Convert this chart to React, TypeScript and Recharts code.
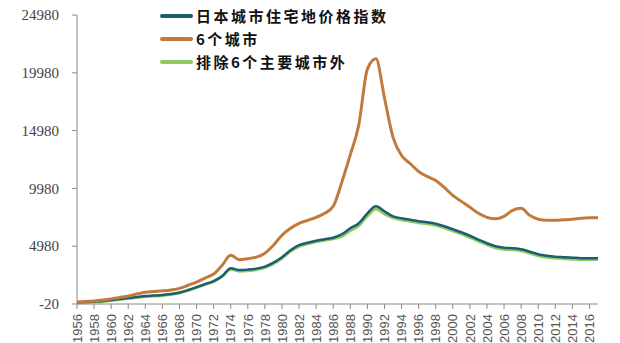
import { LineChart, Line, XAxis, YAxis } from 'recharts';

const years = [
  1956, 1957, 1958, 1959, 1960, 1961, 1962, 1963, 1964, 1965, 1966, 1967, 1968, 1969, 1970, 1971,
  1972, 1973, 1974, 1975, 1976, 1977, 1978, 1979, 1980, 1981, 1982, 1983, 1984, 1985, 1986, 1987,
  1988, 1989, 1990, 1991, 1992, 1993, 1994, 1995, 1996, 1997, 1998, 1999, 2000, 2001, 2002, 2003,
  2004, 2005, 2006, 2007, 2008, 2009, 2010, 2011, 2012, 2013, 2014, 2015, 2016, 2017,
];

// 日本城市住宅地价格指数
const allCities = [
  109, 152, 196, 239, 325, 411, 497, 583, 670, 713, 756, 842, 971, 1187, 1445, 1704,
  1963, 2394, 3083, 2911, 2954, 3040, 3213, 3557, 4031, 4635, 5066, 5281, 5454, 5583, 5712, 6014,
  6531, 6962, 7824, 8428, 7997, 7566, 7393, 7264, 7135, 7048, 6919, 6704, 6445, 6187, 5885, 5540,
  5238, 4980, 4850, 4807, 4721, 4506, 4290, 4161, 4075, 4031, 3988, 3945, 3945, 3945,
];

// 6个城市
const sixCities = [
  152, 196, 239, 325, 411, 540, 670, 842, 990, 1060, 1120, 1200, 1330, 1600, 1880, 2220,
  2570, 3340, 4200, 3816, 3902, 4031, 4376, 5066, 5928, 6531, 6962, 7221, 7479, 7824, 8428, 10500,
  12900, 15500, 20300, 21185, 17800, 14400, 12824, 12134, 11445, 11014, 10669, 10065, 9376, 8859, 8341, 7824,
  7479, 7350, 7566, 8083, 8255, 7652, 7307, 7221, 7221, 7264, 7307, 7393, 7436, 7436,
];

// 排除6个主要城市外
const otherCities = [
  70, 110, 155, 200, 285, 370, 455, 540, 630, 670, 715, 800, 930, 1145, 1400, 1660,
  1920, 2350, 2990, 2820, 2860, 2950, 3120, 3460, 3940, 4540, 4970, 5190, 5360, 5490, 5620, 5820,
  6330, 6760, 7600, 8200, 7780, 7430, 7260, 7130, 7000, 6920, 6790, 6570, 6310, 6050, 5750, 5410,
  5110, 4850, 4720, 4680, 4590, 4380, 4160, 4030, 3950, 3900, 3860, 3820, 3820, 3820,
];

const yTicks = [-20, 4980, 9980, 14980, 19980, 24980];
const xTicks = years.filter((y) => y % 2 === 0 && y <= 2016);

const seriesNames = ['日本城市住宅地价格指数', '6个城市', '排除6个主要城市外'];
const seriesColors = ['#1c5d72', '#c27a3c', '#8fca62'];

const data = years.map((year, i) => ({
  year,
  all: allCities[i],
  six: sixCities[i],
  other: otherCities[i],
}));

function YearTick({ x, y, payload }: any) {
  return (
    <g transform={`translate(${x},${y})`}>
      <text
        transform="rotate(-90)"
        x={-3}
        dy="0.36em"
        textAnchor="end"
        fontSize={13}
        fontFamily="'Liberation Sans', Arial, sans-serif"
        fill="#555"
      >
        {payload.value}
      </text>
    </g>
  );
}

function ValueTick({ x, y, payload }: any) {
  return (
    <text
      x={x}
      y={y}
      dy="0.35em"
      textAnchor="end"
      fontSize={15}
      fontFamily="'Liberation Serif', 'Times New Roman', serif"
      fill="#444"
    >
      {payload.value}
    </text>
  );
}

export default function App() {
  return (
    <div style={{ position: 'absolute', left: 0, top: 0, width: 620, height: 343, background: '#fff' }}>
      <LineChart width={620} height={343} data={data} margin={{ top: 15, right: 22, left: 0, bottom: 0 }}>
        <XAxis
          dataKey="year"
          type="number"
          domain={[1956, 2017]}
          ticks={xTicks}
          interval={0}
          height={39}
          tickSize={5}
          tickMargin={2}
          stroke="#8a8a8a"
          tick={<YearTick />}
        />
        <YAxis
          domain={[-20, 24980]}
          ticks={yTicks}
          width={77}
          tickSize={5}
          tickMargin={13}
          stroke="#8a8a8a"
          tick={<ValueTick />}
        />
        <Line
          type="monotone"
          dataKey="other"
          stroke={seriesColors[2]}
          strokeWidth={3}
          dot={false}
          isAnimationActive={false}
        />
        <Line
          type="monotone"
          dataKey="all"
          stroke={seriesColors[0]}
          strokeWidth={2.5}
          dot={false}
          isAnimationActive={false}
        />
        <Line
          type="monotone"
          dataKey="six"
          stroke={seriesColors[1]}
          strokeWidth={3}
          dot={false}
          isAnimationActive={false}
        />
      </LineChart>
      <div style={{ position: 'absolute', left: 160, top: 4 }}>
        {seriesNames.map((name, i) => (
          <div key={name} style={{ display: 'flex', alignItems: 'center', height: 23 }}>
            <span
              style={{
                display: 'inline-block',
                width: 33,
                height: 4,
                borderRadius: 2,
                background: seriesColors[i],
              }}
            />
            <span
              style={{
                marginLeft: 3,
                fontFamily: "'Noto Sans CJK SC', sans-serif",
                fontWeight: 600,
                fontSize: 15,
                letterSpacing: 2.5,
                color: '#111',
                lineHeight: '23px',
              }}
            >
              {name}
            </span>
          </div>
        ))}
      </div>
    </div>
  );
}
